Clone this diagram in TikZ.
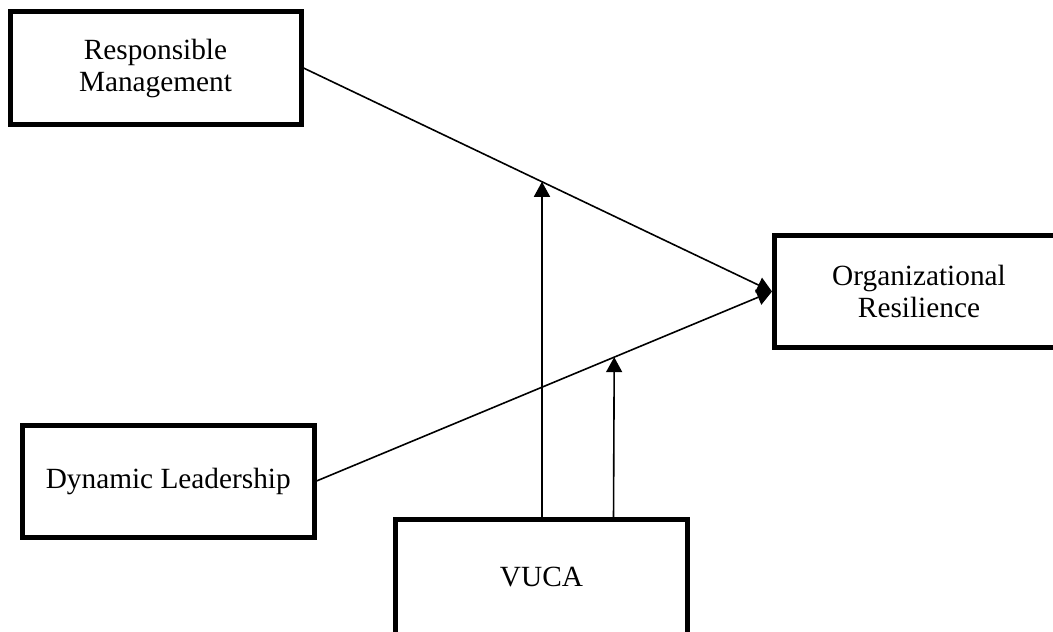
\documentclass[tikz,border=0pt]{standalone}
\usepackage{fontspec}
\setmainfont{Liberation Serif}
\usetikzlibrary{arrows.meta}
\begin{document}
\begin{tikzpicture}[x=0.5pt,y=-0.5pt,
  box/.style={draw=black,line width=2.5pt,rectangle,inner sep=0pt,align=center,
    font=\fontsize{14.65}{16}\selectfont},
  conn/.style={line width=0.8pt,-{Triangle[length=7.5pt,width=8pt]}}]
\useasboundingbox (0,0) rectangle (1053,631);
\clip (0,0) rectangle (1053,631);
\node[box,minimum width=145.5pt,minimum height=56.5pt] (rm) at (155.5,68) {Responsible\\Management};
\node[box,minimum width=144.5pt,minimum height=56pt] (or) at (919,291.5) {Organizational\\Resilience};
\node[box,minimum width=145.75pt,minimum height=56pt] (dl) at (168.25,481) {Dynamic Leadership};
\node[box,minimum width=146pt,minimum height=57.5pt] (vuca) at (541.5,577) {VUCA};
\draw[conn] (rm.east) -- (or.west) coordinate[pos=0.509] (m1);
\draw[conn] (dl.east) -- (or.west) coordinate[pos=0.6536] (m2);
\coordinate (v1) at (542,519.5);
\coordinate (v2) at (613.5,519.5);
\draw[conn] (v1) -- (m1);
\draw[conn] (v2) -- (m2);
\end{tikzpicture}
\end{document}
